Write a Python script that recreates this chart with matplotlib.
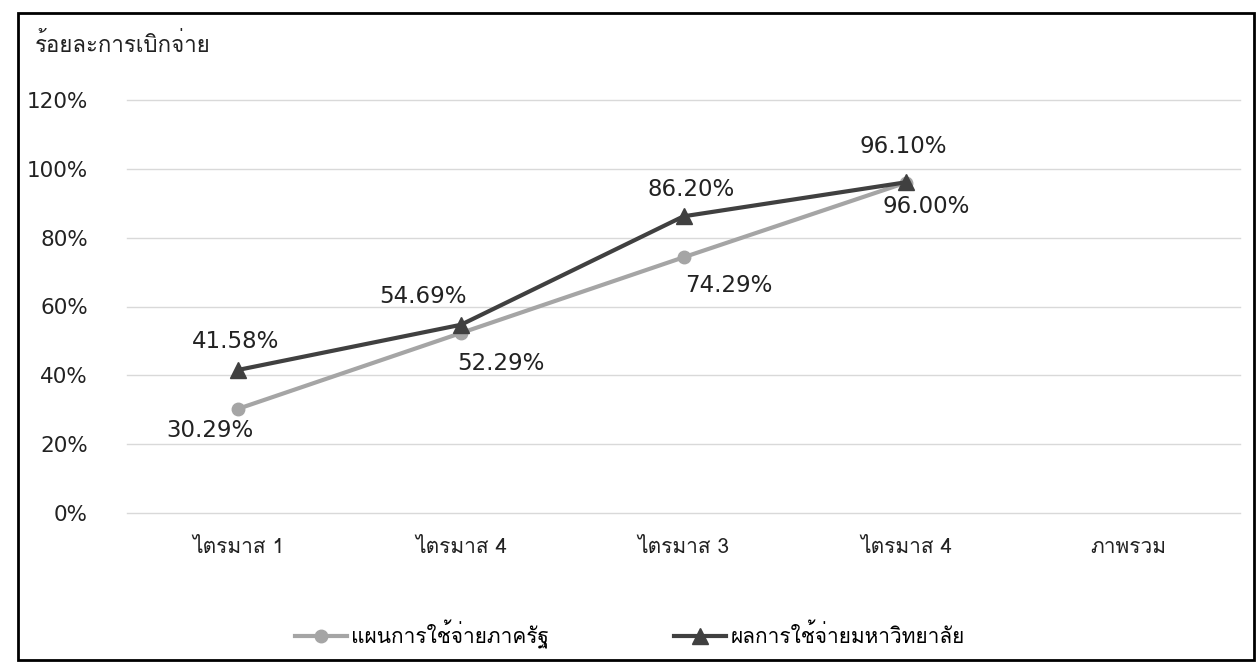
import matplotlib
matplotlib.use('Agg')
import matplotlib.pyplot as plt
from matplotlib import font_manager
from matplotlib.ft2font import FT2Font
from matplotlib.patches import Rectangle

categories = ['ไตรมาส 1', 'ไตรมาส 4', 'ไตรมาส 3', 'ไตรมาส 4', 'ภาพรวม']
plan = [30.29, 52.29, 74.29, 96.00]
result = [41.58, 54.69, 86.20, 96.10]
plan_name = 'แผนการใช้จ่ายภาครัฐ'
result_name = 'ผลการใช้จ่ายมหาวิทยาลัย'
y_title = 'ร้อยละการเบิกจ่าย'
y_ticks = [0, 20, 40, 60, 80, 100, 120]

# label offsets in pixels (dx, dy)
plan_off = [(-28, -22), (40, -30), (45, -28), (20, -24)]
result_off = [(-3, 28), (-38, 28), (8, 27), (-3, 36)]


def find_thai_font():
    names = []
    for f in font_manager.fontManager.ttflist:
        try:
            cmap = FT2Font(f.fname).get_charmap()
        except Exception:
            continue
        if ord('ก') in cmap and ord('1') in cmap:
            names.append(f.name)
    return names[0] if names else None


thai = find_thai_font()
families = [thai, 'DejaVu Sans'] if thai else ['DejaVu Sans']
plt.rcParams['font.family'] = families

fig = plt.figure(figsize=(12.6, 6.66), dpi=100)
ax = fig.add_axes([127 / 1260, 1 - 513 / 666, 1113 / 1260, 413 / 666])

x = list(range(len(categories)))
ax.plot(x[:len(plan)], plan, color='#a5a5a5', lw=3, marker='o', ms=9,
        label=plan_name, zorder=3)
ax.plot(x[:len(result)], result, color='#404040', lw=3, marker='^', ms=11,
        label=result_name, zorder=4)

for i, v in enumerate(plan):
    ax.annotate(f'{v:.2f}%', (i, v), xytext=plan_off[i], textcoords='offset pixels',
                ha='center', va='center', fontsize=16.5, color='#222222',
                family='DejaVu Sans')
for i, v in enumerate(result):
    ax.annotate(f'{v:.2f}%', (i, v), xytext=result_off[i], textcoords='offset pixels',
                ha='center', va='center', fontsize=16.5, color='#222222',
                family='DejaVu Sans')

ax.set_xlim(-0.5, len(categories) - 0.5)
ax.set_ylim(0, 120)
ax.set_yticks(y_ticks)
ax.set_yticklabels([f'{t}%' for t in y_ticks], fontsize=15.5, color='#222222',
                   family='DejaVu Sans')
ax.set_xticks(x)
ax.set_xticklabels(categories, fontsize=15, color='#222222')
ax.tick_params(length=0)
ax.tick_params(axis='y', pad=28)
ax.tick_params(axis='x', pad=18)
ax.grid(axis='y', color='#d9d9d9', lw=1, clip_on=False)
ax.set_axisbelow(True)
for s in ax.spines.values():
    s.set_visible(False)

fig.text(35 / 1260, 1 - 45 / 666, y_title, fontsize=16, color='#222222',
         va='center', ha='left')

fig.legend(loc='center', bbox_to_anchor=(0.5, 1 - 634 / 666), ncol=2,
           frameon=False, fontsize=15, handlelength=2.5, columnspacing=6,
           handletextpad=0.2)

fig.patches.append(Rectangle((18 / 1260, 6 / 666), 1236 / 1260, 647 / 666,
                             transform=fig.transFigure, fill=False,
                             edgecolor='black', lw=2))

fig.savefig('out.png', dpi=100)
